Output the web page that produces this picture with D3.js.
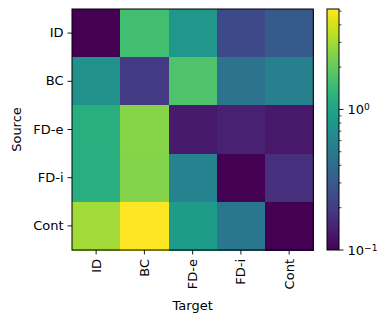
<!DOCTYPE html>
<html>
<head>
<meta charset="utf-8">
<script src="https://cdn.jsdelivr.net/npm/d3@7"></script>
<style>
  body { margin: 0; background: #fff; }
  text { font-family: "DejaVu Sans", sans-serif; fill: #000; }
</style>
</head>
<body>
<div id="chart"></div>
<script>
// row = source, column = target
const sources = ['ID', 'BC', 'FD-e', 'FD-i', 'Cont'];
const targets = ['ID', 'BC', 'FD-e', 'FD-i', 'Cont'];
const rowID   = [0.1, 1.58, 0.81, 0.24, 0.30];
const rowBC   = [0.72, 0.195, 1.71, 0.45, 0.55];
const rowFDe  = [1.2, 2.54, 0.13, 0.143, 0.129];
const rowFDi  = [1.18, 2.5, 0.57, 0.1, 0.174];
const rowCont = [2.98, 5.18, 0.87, 0.47, 0.1];
const colorTicks = [0.1, 1];
const colorMin = 0.1, colorMax = 5.18;

const values = [rowID, rowBC, rowFDe, rowFDi, rowCont];

const width = 390, height = 322;
const fs = 13;

const svg = d3.select('#chart').append('svg')
    .attr('width', width)
    .attr('height', height);

const x = d3.scaleBand().domain(targets).range([72, 313.3]);
const y = d3.scaleBand().domain(sources).range([9, 250]);
const color = d3.scaleSequentialLog(d3.interpolateViridis).domain([colorMin, colorMax]).clamp(true);

// cells
const cells = [];
values.forEach((row, i) => row.forEach((v, j) => cells.push({src: sources[i], tgt: targets[j], v})));

svg.append('g').selectAll('rect')
    .data(cells)
    .enter().append('rect')
    .attr('x', d => x(d.tgt))
    .attr('y', d => y(d.src))
    .attr('width', x.bandwidth() + 0.5)
    .attr('height', y.bandwidth() + 0.5)
    .attr('fill', d => color(d.v))
    .attr('shape-rendering', 'crispEdges');

// axes
const xAxis = svg.append('g')
    .attr('transform', 'translate(0,250)')
    .call(d3.axisBottom(x).tickSizeOuter(0).tickSize(4.5).tickPadding(4));
xAxis.select('.domain').remove();
xAxis.selectAll('text')
    .attr('font-size', fs)
    .attr('transform', 'rotate(-90)')
    .attr('text-anchor', 'end')
    .attr('x', -9)
    .attr('y', 0)
    .attr('dy', '0.35em');

const yAxis = svg.append('g')
    .attr('transform', 'translate(72,0)')
    .call(d3.axisLeft(y).tickSizeOuter(0).tickSize(4.5).tickPadding(4));
yAxis.select('.domain').remove();
yAxis.selectAll('text').attr('font-size', fs);

svg.selectAll('.tick line').attr('stroke', '#000').attr('stroke-width', 0.9);
svg.selectAll('.tick text').attr('font-family', '"DejaVu Sans", sans-serif').attr('fill', '#000');

// frame
svg.append('rect')
    .attr('x', 72).attr('y', 9)
    .attr('width', 241.3).attr('height', 241)
    .attr('fill', 'none').attr('stroke', '#000').attr('stroke-width', 1);

svg.append('text')
    .attr('x', (72 + 313.3) / 2).attr('y', 310)
    .attr('text-anchor', 'middle')
    .attr('font-size', fs)
    .text('Target');

svg.append('text')
    .attr('transform', 'translate(21,129.5) rotate(-90)')
    .attr('text-anchor', 'middle')
    .attr('font-size', fs)
    .text('Source');

// colorbar
const cbX = 327, cbW = 12;
const cy = d3.scaleLog().domain([colorMin, colorMax]).range([250, 9]);

const defs = svg.append('defs');
const grad = defs.append('linearGradient')
    .attr('id', 'cbgrad')
    .attr('x1', 0).attr('y1', 1).attr('x2', 0).attr('y2', 0);
d3.range(0, 1.0001, 0.05).forEach(t => {
  grad.append('stop')
      .attr('offset', t)
      .attr('stop-color', d3.interpolateViridis(t));
});

svg.append('rect')
    .attr('x', cbX).attr('y', 9)
    .attr('width', cbW).attr('height', 241)
    .attr('fill', 'url(#cbgrad)')
    .attr('stroke', '#000').attr('stroke-width', 1);

const minorTicks = [0.2, 0.3, 0.4, 0.5, 0.6, 0.7, 0.8, 0.9, 2, 3, 4, 5];
svg.append('g').selectAll('line')
    .data(minorTicks)
    .enter().append('line')
    .attr('x1', cbX + cbW).attr('x2', cbX + cbW + 2.5)
    .attr('y1', d => cy(d)).attr('y2', d => cy(d))
    .attr('stroke', '#000').attr('stroke-width', 0.7);

const majors = svg.append('g').selectAll('g')
    .data(colorTicks)
    .enter().append('g')
    .attr('transform', d => `translate(${cbX + cbW},${cy(d)})`);
majors.append('line')
    .attr('x2', 4.5)
    .attr('stroke', '#000').attr('stroke-width', 0.9);
const lbl = majors.append('text')
    .attr('x', 8.5)
    .attr('dy', '0.38em')
    .attr('font-size', fs);
lbl.append('tspan').text('10');
lbl.append('tspan')
    .attr('dy', '-0.45em')
    .attr('font-size', fs * 0.7)
    .text(d => d === 1 ? '0' : '\u22121');
</script>
</body>
</html>
